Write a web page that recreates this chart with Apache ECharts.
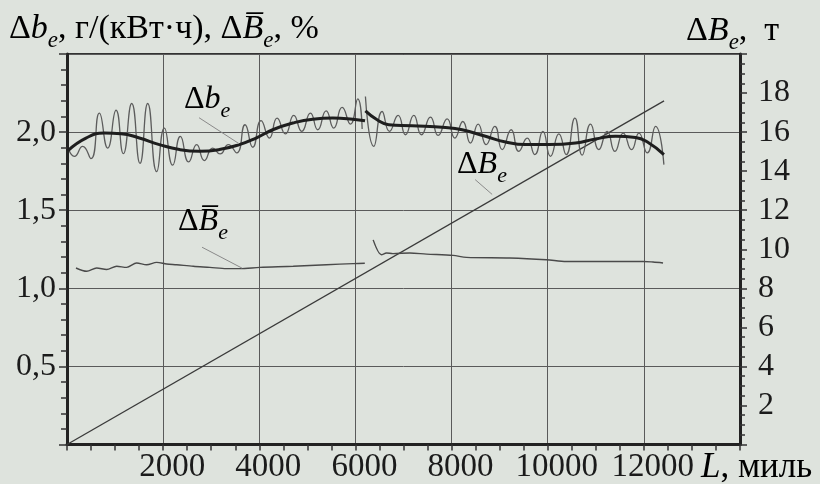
<!DOCTYPE html>
<html>
<head>
<meta charset="utf-8">
<script src="https://cdn.jsdelivr.net/npm/echarts@6/dist/echarts.min.js"></script>
<style>
html,body{margin:0;padding:0;background:#dee3dd;}
#c{width:820px;height:484px;}
</style>
</head>
<body>
<div id="c"></div>
<script>
// ---- data (L in miles) ----
const xTickValues = [2000, 4000, 6000, 8000, 10000, 12000];
const leftTickValues = [0.5, 1.0, 1.5, 2.0];
const rightTickValues = [2, 4, 6, 8, 10, 12, 14, 16, 18];

// Δb_e raw oscillating record, segment 1
const dbRaw1 = [
  [35,1.888],[153,1.845],[326,1.909],[499,1.830],[673,2.122],[846,1.898],[1020,2.140],[1172,1.862],
  [1346,2.183],[1519,1.800],[1679,2.183],[1866,1.747],[2025,2.026],[2199,1.788],[2358,1.973],[2532,1.809],
  [2698,1.920],[2858,1.818],[3031,1.898],[3184,1.860],[3357,1.920],[3531,1.867],[3704,2.047],[3864,1.903],
  [4037,2.073],[4211,1.962],[4370,2.090],[4544,1.988],[4717,2.107],[4883,2.005],[5064,2.122],[5216,2.015],
  [5390,2.136],[5549,2.026],[5723,2.158],[5896,2.051],[6049,2.213],[6140,2.020]
];
// Δb_e raw oscillating record, segment 2
const dbRaw2 = [
  [6208,2.228],[6382,1.909],[6555,2.132],[6708,2.005],[6888,2.107],[7041,1.983],[7214,2.107],[7374,1.983],
  [7561,2.096],[7721,1.979],[7908,2.085],[8067,1.962],[8234,2.068],[8393,1.930],[8553,2.051],[8719,1.920],
  [8900,2.037],[9052,1.888],[9240,2.015],[9399,1.877],[9573,1.962],[9732,1.856],[9899,2.005],[10058,1.845],
  [10232,1.988],[10384,1.856],[10565,2.090],[10717,1.852],[10891,2.051],[11064,1.888],[11237,2.005],[11397,1.877],
  [11570,1.994],[11744,1.888],[11897,1.994],[12070,1.867],[12243,2.037],[12417,1.792]
];
// Δb_e smoothed trend
const dbTrend1 = [
  [14,1.880],[395,1.962],[777,1.994],[1124,1.990],[1505,1.962],[1921,1.920],[2338,1.888],[2754,1.877],
  [3170,1.888],[3586,1.920],[3933,1.962],[4280,2.015],[4696,2.058],[5112,2.083],[5529,2.090],[5945,2.083],[6200,2.073]
];
const dbTrend2 = [
  [6208,2.136],[6451,2.079],[6694,2.047],[7180,2.041],[7873,2.030],[8220,2.015],[8706,1.973],[9122,1.937],
  [9538,1.920],[10024,1.920],[10579,1.930],[10995,1.956],[11411,1.973],[11827,1.966],[12105,1.930],[12417,1.856]
];
// ΔB̄_e mean, %
const dbMean1 = [
  [187,1.130],[410,1.109],[617,1.130],[825,1.120],[1033,1.141],[1241,1.134],[1449,1.162],[1657,1.151],
  [1865,1.166],[2073,1.156],[2281,1.151],[2627,1.141],[2973,1.134],[3320,1.126],[3597,1.126],[4012,1.134],
  [4705,1.141],[5398,1.151],[5953,1.158],[6195,1.160]
];
const dbMean2 = [
  [6369,1.310],[6542,1.215],[6646,1.226],[6780,1.222],[7131,1.226],[7478,1.219],[8032,1.211],[8309,1.198],
  [9210,1.194],[9972,1.183],[10388,1.172],[10943,1.172],[11983,1.172],[12191,1.168],[12399,1.162]
];
// ΔB_e cumulative, t
const cumB = [[0,0],[12420,17.6]];

// leader line anchors (data space)
const leaderDb = [[2747,2.092],[3579,1.926]];
const leaderCum = [[8490,1.696],[8844,1.601]];
const leaderMean = [[2809,1.263],[3642,1.129]];

// ---- style ----
const F = 'Liberation Serif, Times New Roman, serif';
const TXT = '#1b1b1b';
function makeRich(size, sub, lh, slh){
  return {
    n: {fontFamily:F, fontSize:size, lineHeight:lh, color:TXT},
    i: {fontFamily:F, fontSize:size, fontStyle:'italic', lineHeight:lh, color:TXT},
    s: {fontFamily:F, fontSize:sub, fontStyle:'italic', lineHeight:slh, verticalAlign:'bottom', color:TXT}
  };
}
const richMark = makeRich(32, 22, 44, 14);
const richTitle = makeRich(34, 23, 46, 14);
const richUnit = makeRich(35, 24, 46, 14);

const chart = echarts.init(document.getElementById('c'), null, {renderer:'canvas'});

function lineSeries(data, yIdx, color, width, smooth){
  return {type:'line', data:data, yAxisIndex:yIdx, symbol:'none', smooth:smooth,
    lineStyle:{color:color, width:width}, silent:true, z:3};
}

const axisLbl = {fontFamily:F, fontSize:32, lineHeight:28, color:TXT};

chart.setOption({
  animation:false,
  backgroundColor:'#dee3dd',
  grid:{left:67, right:80, top:54, bottom:38, show:true, borderColor:'#333', borderWidth:2, backgroundColor:'transparent'},
  xAxis:{
    type:'value', min:0, max:14000, interval:2000,
    axisLine:{show:true, lineStyle:{color:'#222', width:3}},
    axisTick:{show:true, length:6, lineStyle:{color:'#333', width:1.5}},
    minorTick:{show:true, splitNumber:4, length:6, lineStyle:{color:'#333', width:1.5}},
    splitLine:{show:true, lineStyle:{color:'#5a5a5a', width:1}},
    axisLabel:Object.assign({margin:9, padding:[0,0,0,18], formatter:v => xTickValues.indexOf(v) >= 0 ? String(v) : ''}, axisLbl, {fontSize:33})
  },
  yAxis:[{
    type:'value', min:0, max:2.5, interval:0.5, position:'left',
    axisLine:{show:true, lineStyle:{color:'#222', width:3}},
    axisTick:{show:true, length:8, lineStyle:{color:'#333', width:1.5}},
    minorTick:{show:true, splitNumber:5, length:6, lineStyle:{color:'#333', width:1.5}},
    splitLine:{show:true, lineStyle:{color:'#5a5a5a', width:1}},
    axisLabel:Object.assign({margin:11, formatter:v => {
      const hit = leftTickValues.find(t => Math.abs(t - v) < 1e-9);
      return hit === undefined ? '' : hit.toFixed(1).replace('.', ',');
    }}, axisLbl)
  },{
    type:'value', min:0, max:20, interval:2, position:'right',
    axisLine:{show:true, lineStyle:{color:'#222', width:3}},
    axisTick:{show:true, length:7, lineStyle:{color:'#333', width:1.5}},
    minorTick:{show:true, splitNumber:4, length:5, lineStyle:{color:'#333', width:1.5}},
    splitLine:{show:false},
    axisLabel:Object.assign({margin:18, formatter:v => rightTickValues.indexOf(v) >= 0 ? String(v) : ''}, axisLbl)
  }],
  series:[
    lineSeries(cumB, 1, '#3a3a3a', 1.3, false),
    lineSeries(dbMean1, 0, '#4a4a4a', 1.4, 0.3),
    lineSeries(dbMean2, 0, '#4a4a4a', 1.4, 0.3),
    lineSeries(dbRaw1, 0, '#5c5c5c', 1.3, 0.55),
    lineSeries(dbRaw2, 0, '#5c5c5c', 1.3, 0.55),
    lineSeries(dbTrend1, 0, '#1e1e1e', 3, true),
    lineSeries(dbTrend2, 0, '#1e1e1e', 3, true)
  ]
});

function px(p){ return chart.convertToPixel({xAxisIndex:0, yAxisIndex:0}, p); }
function leader(pair){
  const a = px(pair[0]), b = px(pair[1]);
  return {type:'line', shape:{x1:a[0], y1:a[1], x2:b[0], y2:b[1]}, style:{stroke:'#8a8a8a', lineWidth:1}, z:10, silent:true};
}
function label(x, y, text, rich){
  return {type:'text', x:x, y:y, z:10, silent:true, style:{text:text, rich:rich, align:'left', verticalAlign:'top'}};
}

chart.setOption({
  graphic:[
    label(9, 6, '{n|Δ}{i|b}{s|e}{n|, г/(кВт·ч), Δ}{i|B\u0305}{s|e}{n|, %}', richTitle),
    label(686, 8, '{n|Δ}{i|B}{s|e}{n|,  т}', richTitle),
    label(701, 445, '{i|L}{n|, миль}', richUnit),
    label(184, 78, '{n|Δ}{i|b}{s|e}', richMark),
    label(457, 143, '{n|Δ}{i|B}{s|e}', richMark),
    label(178, 200, '{n|Δ}{i|B\u0305}{s|e}', richMark),
    leader(leaderDb),
    leader(leaderCum),
    leader(leaderMean)
  ]
});
</script>
</body>
</html>
